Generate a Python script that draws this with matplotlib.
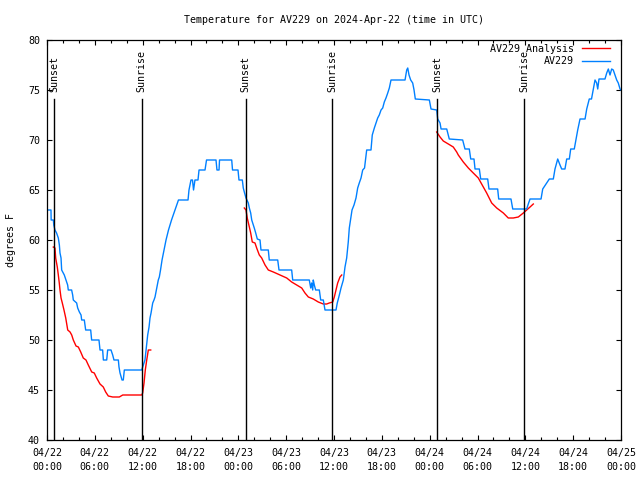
"""Temperature at AV229, observed vs analysis, 2024-04-22 to 2024-04-25 (UTC)."""

import matplotlib

matplotlib.use("Agg")
import matplotlib.dates as mdates
import matplotlib.pyplot as plt
import numpy as np
import pandas as pd

START = pd.Timestamp("2024-04-22 00:00")

# observed station temperature (hours since start, degrees F)
obs_hours = [
    0.00, 0.50, 0.52, 0.80, 0.85, 1.00, 1.20, 1.42, 1.55, 1.63, 1.76, 1.84, 2.17, 2.38,
    2.59, 2.67, 3.09, 3.22, 3.30, 3.72, 3.85, 4.06, 4.27, 4.35, 4.68, 4.85, 5.48, 5.60,
    6.52, 6.65, 6.98, 7.07, 7.49, 7.61, 8.03, 8.24, 8.40, 8.95, 9.03, 9.16, 9.41, 9.57,
    9.70, 11.88, 12.08, 12.29, 12.50, 12.63, 12.80, 12.92, 13.05, 13.26, 13.42, 13.55,
    13.84, 13.96, 14.09, 14.24, 14.43, 14.68, 14.93, 15.24, 15.62, 16.06, 16.49, 17.69,
    17.81, 18.06, 18.25, 18.38, 18.56, 18.94, 19.07, 19.82, 20.01, 21.20, 21.32, 21.58,
    21.64, 23.17, 23.27, 23.96, 24.08, 24.50, 24.62, 24.75, 24.96, 25.25, 25.38, 25.55,
    25.68, 25.80, 26.00, 26.18, 26.38, 26.72, 26.84, 27.76, 27.88, 28.94, 29.10, 30.69,
    30.82, 32.90, 33.08, 33.20, 33.33, 33.40, 33.53, 33.70, 34.16, 34.33, 34.66, 34.87,
    36.25, 36.41, 36.67, 36.88, 37.17, 37.38, 37.59, 37.79, 37.92, 38.07, 38.26, 38.51,
    38.76, 38.97, 39.17, 39.39, 39.60, 39.83, 40.10, 40.64, 40.80, 41.06, 41.27, 41.48,
    41.68, 41.90, 42.11, 42.31, 42.52, 42.74, 42.94, 43.15, 44.91, 45.12, 45.25, 45.41,
    45.62, 45.87, 46.04, 46.20, 47.96, 48.17, 48.88, 49.01, 49.30, 49.43, 50.14, 50.46,
    52.14, 52.43, 52.97, 53.15, 53.56, 53.69, 54.23, 54.40, 55.28, 55.44, 56.53, 56.66,
    58.20, 58.42, 60.17, 60.37, 60.59, 61.97, 62.18, 63.01, 63.51, 63.72, 64.06, 64.35,
    64.56, 64.97, 65.19, 65.52, 65.69, 66.14, 66.36, 66.57, 66.86, 67.49, 67.70, 68.02,
    68.30, 68.53, 68.74, 68.95, 69.08, 69.24, 69.99, 70.21, 70.41, 70.62, 70.83, 71.03,
    71.25, 71.46, 71.66, 71.88, 72.00,
]
obs_temp = [
    63, 63, 62, 62, 61.5, 61, 60.7, 60.2, 59.5, 58.7, 58.2, 57, 56.5, 56,
    55.5, 55, 55, 54.5, 54, 53.7, 53.2, 52.8, 52.5, 52, 52, 51, 51, 50,
    50, 49, 49, 48, 48, 49, 49, 48.5, 48, 48, 47.3, 46.7, 46, 46,
    47, 47, 47.5, 48, 49.5, 50.5, 51.3, 52.2, 52.7, 53.7, 54, 54.3,
    55.5, 56, 56.3, 57, 58, 59, 60, 61, 62, 63, 64, 64,
    65, 66, 66, 65, 66, 66, 67, 67, 68, 68, 67, 67,
    68, 68, 67, 67, 66, 66, 65.2, 64.8, 64.2, 63.7, 63.2, 62.7,
    62, 61.7, 61.2, 60.7, 60.1, 60, 59, 59, 58, 58, 57, 57,
    56, 56, 55.2, 55.7, 55, 56, 55.5, 55, 55, 54, 54, 53,
    53, 53.7, 54.5, 55.2, 56, 57.3, 58.2, 59.8, 61.2, 62, 63, 63.5,
    64.2, 65.2, 65.7, 66.2, 67, 67.2, 69, 69, 70.5, 71.2, 71.7, 72.2,
    72.5, 73, 73.2, 73.8, 74.2, 74.7, 75.2, 76, 76, 77, 77.2, 76.5,
    76, 75.7, 75, 74.1, 74, 73.1, 73, 72.1, 71.7, 71.1, 71.1, 70.1,
    70, 69.1, 69.1, 68.1, 68.1, 67.1, 67.1, 66.1, 66.1, 65.1, 65.1, 64.1,
    64.1, 63.1, 63.1, 63.6, 64.1, 64.1, 65.1, 66.1, 66.1, 67.1, 68.1, 67.5,
    67.1, 67.1, 68.1, 68.1, 69.1, 69.1, 70.1, 71, 72.1, 72.1, 73.1, 74.1,
    74.1, 75.1, 76, 75.7, 75.1, 76.1, 76.1, 76.7, 77.1, 76.5, 77.1, 77,
    76.5, 76, 75.7, 75.1, 75,
]

# analysis runs (three separate nightly segments)
ana_hours_1 = [
    0.79, 1.00, 1.09, 1.29, 1.42, 1.54, 1.63, 1.76, 1.92, 2.13, 2.35, 2.60, 2.89, 3.10,
    3.30, 3.64, 3.93, 4.23, 4.55, 4.89, 5.18, 5.61, 5.93, 6.23, 6.65, 7.06, 7.36, 7.69,
    8.24, 8.53, 9.07, 9.50, 11.88, 12.00, 12.17, 12.33, 12.51, 12.71, 13.01,
]
ana_temp_1 = [
    59.3, 59.2, 58.2, 57.3, 56.5, 55.7, 55, 54.2, 53.7, 53, 52.2, 51, 50.8, 50.5,
    50, 49.4, 49.3, 48.8, 48.2, 48, 47.5, 46.8, 46.7, 46.2, 45.6, 45.3, 44.8, 44.4,
    44.3, 44.3, 44.3, 44.5, 44.5, 44.7, 45.7, 47, 48, 49, 49,
]
ana_hours_2 = [
    24.75, 24.96, 25.12, 25.38, 25.55, 25.75, 26.09, 26.30, 26.63, 26.93, 27.35, 27.76,
    28.39, 29.23, 30.07, 30.69, 31.32, 31.95, 32.36, 32.78, 33.40, 34.03, 34.66, 35.08,
    35.41, 35.84, 36.04, 36.25, 36.46, 36.75, 36.97,
]
ana_temp_2 = [
    63.2, 63, 62.2, 61.3, 60.7, 59.8, 59.7, 59.2, 58.5, 58.2, 57.5, 57,
    56.8, 56.5, 56.2, 55.8, 55.5, 55.2, 54.7, 54.3, 54.1, 53.8, 53.6, 53.6,
    53.7, 53.8, 54.3, 55, 55.7, 56.3, 56.5,
]
ana_hours_3 = [
    48.88, 49.30, 49.71, 50.34, 50.96, 51.39, 51.59, 52.22, 52.85, 53.47, 54.10, 54.73,
    55.15, 55.78, 56.41, 57.24, 57.86, 58.49, 59.12, 59.75, 60.17, 60.59, 61.00,
]
ana_temp_3 = [
    70.8, 70.3, 69.9, 69.6, 69.3, 68.8, 68.5, 67.8, 67.2, 66.7, 66.2, 65.3,
    64.7, 63.7, 63.2, 62.7, 62.2, 62.2, 62.3, 62.7, 63, 63.3, 63.6,
]

event_hours = [0.92, 11.88, 24.92, 35.79, 48.96, 59.88]
event_names = ["Sunset", "Sunrise", "Sunset", "Sunrise", "Sunset", "Sunrise"]

RED = "#ff0000"
BLUE = "#0080ff"
FONT = "DejaVu Sans Mono"
FS = 7.2


def _times(hours):
    return START + pd.to_timedelta(np.asarray(hours, dtype=float), unit="h")


def main() -> None:
    plt.rcParams["font.family"] = [FONT, "DejaVu Sans"]
    plt.rcParams["font.size"] = FS

    fig = plt.figure(figsize=(6.4, 4.8), dpi=100)
    ax = fig.add_axes([47 / 640, 1 - 440 / 480, 574 / 640, 400 / 480])

    first = True
    for hrs, temps in [(ana_hours_1, ana_temp_1), (ana_hours_2, ana_temp_2), (ana_hours_3, ana_temp_3)]:
        ax.plot(_times(hrs), temps, color=RED, lw=1.0, label="AV229 Analysis" if first else None)
        first = False
    ax.plot(_times(obs_hours), obs_temp, color=BLUE, lw=1.0, label="AV229")

    for t, name in zip(_times(event_hours), event_names):
        ax.plot([t, t], [40, 74.1], color="black", lw=1.0)
        ax.text(t, 74.8, name, rotation=90, ha="center", va="bottom", fontsize=FS)

    ax.set_xlim(START, START + pd.Timedelta(hours=72))
    ax.set_ylim(40, 80)
    ax.set_yticks(range(40, 81, 5))
    ax.xaxis.set_major_locator(mdates.HourLocator(byhour=range(0, 24, 6)))
    ax.xaxis.set_minor_locator(mdates.HourLocator(byhour=range(0, 24, 2)))
    ax.xaxis.set_major_formatter(mdates.DateFormatter("%m/%d\n%H:%M"))

    ax.tick_params(which="both", direction="in", top=True, right=True, labelsize=FS, width=0.8)
    ax.tick_params(which="major", length=3.6)
    ax.tick_params(which="minor", length=2.2)
    ax.tick_params(axis="x", pad=6)
    ax.tick_params(axis="y", pad=5)
    for spine in ax.spines.values():
        spine.set_linewidth(0.9)

    ax.set_ylabel("degrees F", fontsize=FS, labelpad=9)
    ax.set_title("Temperature for AV229 on 2024-Apr-22 (time in UTC)", fontsize=FS, pad=12)

    ax.legend(
        loc="upper right",
        bbox_to_anchor=((610 - 47) / 574, 0.99),
        frameon=False,
        markerfirst=False,
        handlelength=2.8,
        handletextpad=0.8,
        borderpad=0,
        borderaxespad=0,
        labelspacing=0.25,
        fontsize=FS,
    )

    fig.canvas.draw()
    for lbl in ax.get_xticklabels():
        lbl.set_linespacing(1.5)

    fig.savefig("out.png", dpi=100)
    plt.close(fig)


if __name__ == "__main__":
    main()
